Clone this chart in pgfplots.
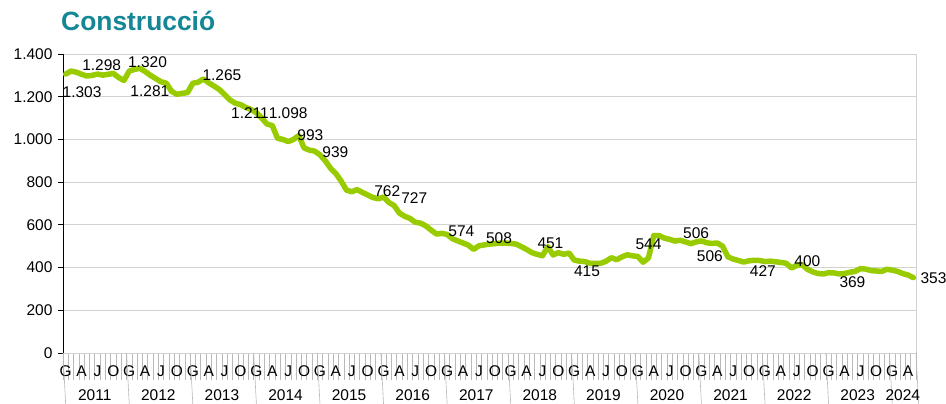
\documentclass[border=0pt]{standalone}
\usepackage{fontspec}
\setmainfont{Liberation Sans}
\usepackage{pgfplots}
\pgfplotsset{compat=1.18}
\definecolor{lineg}{RGB}{153,204,0}
\definecolor{titc}{RGB}{20,134,150}
\definecolor{gridc}{RGB}{210,210,210}
\definecolor{tickc}{RGB}{185,185,185}
\newcommand{\lf}{\fontsize{15.5bp}{18bp}\selectfont}
\begin{document}
\begin{tikzpicture}
\useasboundingbox (0,0) rectangle (946bp,404bp);
\node[anchor=base west, font=\fontsize{26.4bp}{30bp}\selectfont\bfseries, text=titc, inner sep=0pt] at (61bp,373bp) {Construcció};
\begin{axis}[
  at={(63bp,51bp)}, anchor=south west,
  scale only axis, width=853bp, height=299bp,
  xmin=-0.5, xmax=160.5, ymin=0, ymax=1400,
  clip=false,
  axis lines*=left,
  x axis line style={draw=gridc, line width=0.8bp},
  y axis line style={draw=black, line width=0.8bp},
  ytick={0,200,400,600,800,1000,1200,1400},
  yticklabels={0,200,400,600,800,1.000,1.200,1.400},
  ymajorgrids, major grid style={draw=gridc, line width=0.8bp},
  tick align=outside,
  major tick length=5bp,
  ytick style={draw=black, line width=0.8bp},
  xtick={0,3,...,159},
  xticklabels={G,A,J,O,G,A,J,O,G,A,J,O,G,A,J,O,G,A,J,O,G,A,J,O,G,A,J,O,G,A,J,O,G,A,J,O,G,A,J,O,G,A,J,O,G,A,J,O,G,A,J,O,G,A},
  minor xtick={-0.5,0.5,...,160.5},
  minor tick length=27bp,
  major x tick style={draw=none},
  minor x tick style={draw=tickc, line width=0.6bp},
  ticklabel style={font=\lf},
  xticklabel style={yshift=-4bp},
  yticklabel style={xshift=-2bp},
]
\addplot[color=lineg, line width=5.5bp, line join=round, line cap=round] coordinates {
(0,1306) (1,1320) (2,1315) (3,1305) (4,1297) (5,1300) (6,1306) (7,1301) (8,1305) (9,1309)
(10,1290) (11,1276) (12,1320) (13,1328) (14,1333) (15,1318) (16,1300) (17,1285) (18,1270) (19,1263)
(20,1225) (21,1211) (22,1216) (23,1219) (24,1263) (25,1268) (26,1283) (27,1265) (28,1250) (29,1234)
(30,1210) (31,1185) (32,1170) (33,1163) (34,1150) (35,1140) (36,1125) (37,1100) (38,1072) (39,1065)
(40,1005) (41,1000) (42,990) (43,1000) (44,1018) (45,960) (46,950) (47,945) (48,928) (49,900)
(50,865) (51,840) (52,805) (53,763) (54,755) (55,765) (56,752) (57,740) (58,728) (59,722)
(60,730) (61,705) (62,690) (63,655) (64,640) (65,630) (66,612) (67,608) (68,595) (69,575)
(70,557) (71,560) (72,555) (73,535) (74,525) (75,515) (76,505) (77,485) (78,502) (79,506)
(80,510) (81,512) (82,515) (83,515) (84,513) (85,510) (86,498) (87,485) (88,470) (89,462)
(90,455) (91,498) (92,459) (93,470) (94,462) (95,468) (96,435) (97,430) (98,428) (99,420)
(100,420) (101,420) (102,430) (103,446) (104,437) (105,450) (106,460) (107,455) (108,452) (109,425)
(110,445) (111,550) (112,550) (113,538) (114,532) (115,524) (116,528) (117,520) (118,512) (119,520)
(120,525) (121,516) (122,513) (123,515) (124,500) (125,450) (126,440) (127,433) (128,426) (129,432)
(130,434) (131,433) (132,428) (133,430) (134,427) (135,424) (136,420) (137,398) (138,410) (139,414)
(140,392) (141,380) (142,372) (143,370) (144,376) (145,375) (146,370) (147,372) (148,378) (149,382)
(150,395) (151,393) (152,386) (153,384) (154,382) (155,392) (156,388) (157,382) (158,372) (159,365)
(160,353)
};
\draw[draw=gridc, line width=0.8bp] (rel axis cs:1,0) -- (rel axis cs:1,1);
\pgfplotsinvokeforeach{-0.5,11.5,23.5,35.5,47.5,59.5,71.5,83.5,95.5,107.5,119.5,131.5,143.5,155.5,160.5}{
  \draw[draw=tickc, line width=0.6bp] (axis cs:#1,0) -- ++(0,-51bp);
}
\begin{scope}[every node/.style={font=\lf, inner sep=0pt}]
\node at (axis cs:5.5,0) [yshift=-42bp] {2011};
\node at (axis cs:17.5,0) [yshift=-42bp] {2012};
\node at (axis cs:29.5,0) [yshift=-42bp] {2013};
\node at (axis cs:41.5,0) [yshift=-42bp] {2014};
\node at (axis cs:53.5,0) [yshift=-42bp] {2015};
\node at (axis cs:65.5,0) [yshift=-42bp] {2016};
\node at (axis cs:77.5,0) [yshift=-42bp] {2017};
\node at (axis cs:89.5,0) [yshift=-42bp] {2018};
\node at (axis cs:101.5,0) [yshift=-42bp] {2019};
\node at (axis cs:113.5,0) [yshift=-42bp] {2020};
\node at (axis cs:125.5,0) [yshift=-42bp] {2021};
\node at (axis cs:137.5,0) [yshift=-42bp] {2022};
\node at (axis cs:149.5,0) [yshift=-42bp] {2023};
\node at (axis cs:158,0) [yshift=-42bp] {2024};
\node at (axis cs:3.1,1222) {1.303};
\node at (axis cs:6.8,1347) {1.298};
\node at (axis cs:15.45,1362) {1.320};
\node at (axis cs:15.9,1225) {1.281};
\node at (axis cs:29.5,1303) {1.265};
\node at (axis cs:34.8,1122) {1.211};
\node at (axis cs:42,1122) {1.098};
\node at (axis cs:46.2,1021) {993};
\node at (axis cs:50.9,942) {939};
\node at (axis cs:60.7,758) {762};
\node at (axis cs:65.8,724) {727};
\node at (axis cs:74.7,570) {574};
\node at (axis cs:81.8,537) {508};
\node at (axis cs:91.5,516) {451};
\node at (axis cs:98.4,382) {415};
\node at (axis cs:110,507) {544};
\node at (axis cs:119,560) {506};
\node at (axis cs:121.6,455) {506};
\node at (axis cs:131.6,384) {427};
\node at (axis cs:140,431) {400};
\node at (axis cs:148.5,334) {369};
\node at (axis cs:163.8,351) {353};
\end{scope}
\end{axis}
\end{tikzpicture}
\end{document}
